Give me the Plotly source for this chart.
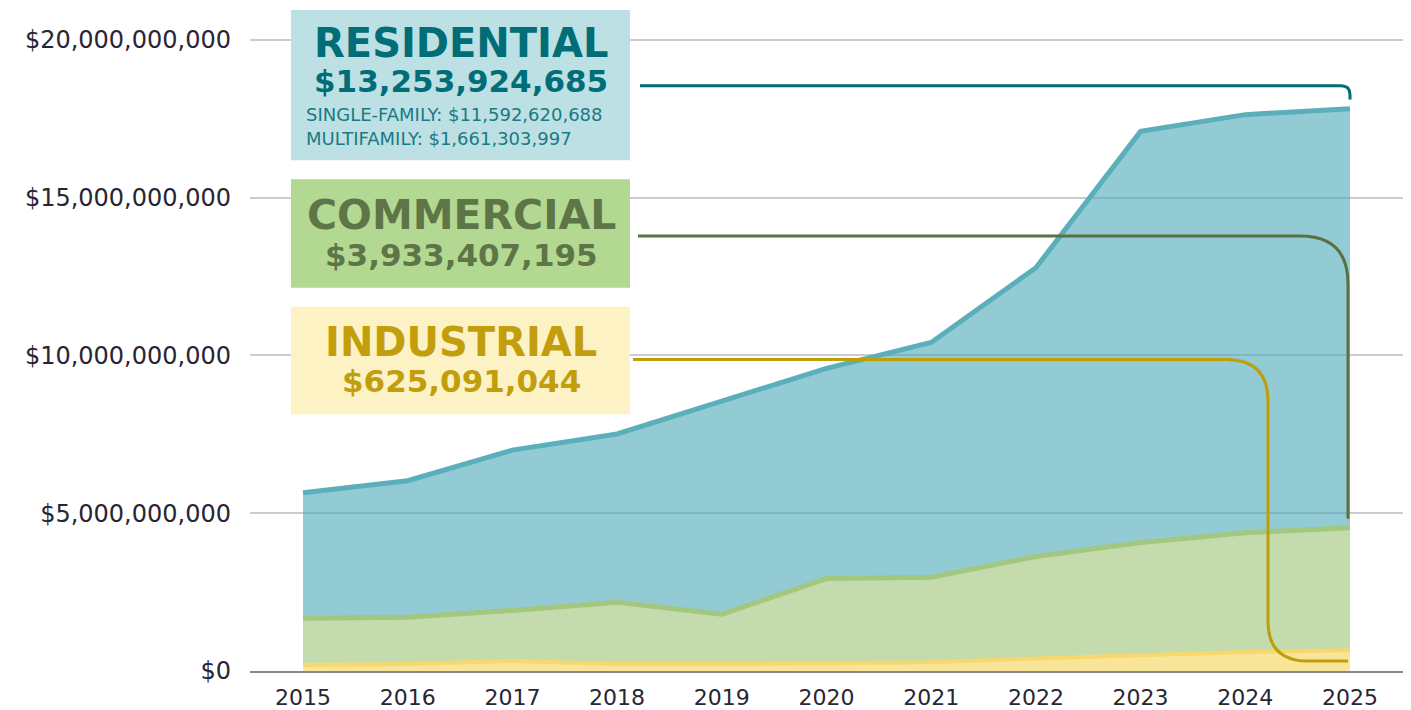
import plotly.graph_objects as go

# ---------------- data ----------------
years = [2015, 2016, 2017, 2018, 2019, 2020, 2021, 2022, 2023, 2024, 2025]
industrial = [0.19e9, 0.22e9, 0.32e9, 0.22e9, 0.22e9, 0.25e9, 0.28e9, 0.40e9, 0.50e9, 0.60e9, 0.66e9]
commercial = [1.48e9, 1.48e9, 1.60e9, 1.96e9, 1.58e9, 2.68e9, 2.69e9, 3.23e9, 3.57e9, 3.78e9, 3.88e9]
residential = [3.98e9, 4.33e9, 5.08e9, 5.33e9, 6.75e9, 6.66e9, 7.44e9, 9.15e9, 13.03e9, 13.25e9, 13.28e9]

y_ticks = [0, 5e9, 10e9, 15e9, 20e9]
y_tick_labels = ["$0", "$5,000,000,000", "$10,000,000,000", "$15,000,000,000", "$20,000,000,000"]

# ---------------- layout geometry ----------------
OFF = 8  # page body margin
W, H = 1403, 702
ML, MR, MT, MB = 242, 6, 0, 36
PW, PH = W - ML - MR, H - MT - MB


def px(x):
    """page pixel x -> paper x"""
    return (x - OFF - ML) / PW


def py(y):
    """page pixel y -> paper y"""
    return (MT + PH - (y - OFF)) / PH


# 20B at page y=40, 0 at page y=674
per_px = 20e9 / (674 - 40)
y_max = (674 - OFF) * per_px

FONT = "DejaVu Sans"

fig = go.Figure()

series = [
    ("Industrial", industrial, "rgba(245,212,87,0.6)", "#f6d86c", 4),
    ("Commercial", commercial, "rgba(157,195,118,0.6)", "#a3c77f", 5),
    ("Residential", residential, "rgba(75,168,185,0.6)", "#5aafbb", 5),
]
for name, vals, fillc, linec, lw in series:
    fig.add_trace(go.Scatter(
        x=years, y=vals, name=name, mode="lines", stackgroup="one",
        line=dict(color=linec, width=lw), fillcolor=fillc,
    ))

shapes = []
annotations = []

# label boxes
boxes = [
    (10, 161, "#bde0e4"),
    (180, 289, "#b3d891"),
    (308, 416, "#fdf2c4"),
]
for y0, y1, c in boxes:
    shapes.append(dict(type="rect", xref="paper", yref="paper",
                       x0=px(291), x1=px(630), y0=py(y1), y1=py(y0),
                       fillcolor=c, line=dict(width=0), layer="above"))


def path(points):
    out = []
    for cmd, coords in points:
        s = cmd + " " + " ".join(f"{px(a):.5f},{py(b):.5f}" for a, b in coords)
        out.append(s)
    return " ".join(out)


# connector lines
res_path = path([("M", [(640, 86)]), ("L", [(1341, 86)]),
                 ("Q", [(1350, 86), (1350, 95)]), ("L", [(1350, 100)])])
com_path = path([("M", [(638, 237)]), ("L", [(1300, 237)]),
                 ("Q", [(1348, 237), (1348, 285)]), ("L", [(1348, 521)])])
ind_path = path([("M", [(633, 361)]), ("L", [(1226, 361)]),
                 ("Q", [(1268, 361), (1268, 403)]), ("L", [(1268, 624)]),
                 ("Q", [(1268, 664), (1308, 664)]), ("L", [(1348, 664)])])
for p, c in [(res_path, "#006d77"), (com_path, "#5b7145"), (ind_path, "#c09e0a")]:
    shapes.append(dict(type="path", xref="paper", yref="paper", path=p,
                       line=dict(color=c, width=3), layer="above"))


def ann(text, x, y, size, color, bold=True, xanchor="center"):
    annotations.append(dict(
        text=text, xref="paper", yref="paper", x=px(x), y=py(y),
        xanchor=xanchor, yanchor="middle", showarrow=False,
        font=dict(family=FONT, size=size, color=color, weight=700 if bold else 400),
    ))


ann("RESIDENTIAL", 461, 43, 40, "#006d77")
ann("$13,253,924,685", 461, 81, 31, "#006d77")
ann("SINGLE-FAMILY: $11,592,620,688", 304, 115, 18, "#1a7a83", bold=False, xanchor="left")
ann("MULTIFAMILY: $1,661,303,997", 304, 139, 18, "#1a7a83", bold=False, xanchor="left")
ann("COMMERCIAL", 461, 216, 41, "#5e7548")
ann("$3,933,407,195", 461, 256, 31, "#5e7548")
ann("INDUSTRIAL", 461, 344, 40, "#c29e0c")
ann("$625,091,044", 461, 383, 31, "#c29e0c")

fig.update_layout(
    width=W, height=H,
    margin=dict(l=ML, r=MR, t=MT, b=MB),
    paper_bgcolor="white", plot_bgcolor="white",
    showlegend=False,
    shapes=shapes, annotations=annotations,
    font=dict(family=FONT, color="#2a2535"),
    xaxis=dict(
        range=[2015 - 53 / 104.7, 2025 + 55 / 104.7],
        tickvals=years, ticktext=[str(y) for y in years],
        showgrid=False, zeroline=False,
        showline=True, linecolor="#8a8694", linewidth=2,
        ticks="outside", ticklen=6, tickcolor="rgba(0,0,0,0)",
        tickfont=dict(family=FONT, size=22, color="#2a2535"),
    ),
    yaxis=dict(
        range=[0, y_max],
        tickvals=y_ticks, ticktext=y_tick_labels,
        showgrid=True, gridcolor="#cccbd1", gridwidth=1.5,
        zeroline=False, showline=False,
        ticklabelstandoff=18,
        tickfont=dict(family=FONT, size=24, color="#2a2535"),
    ),
)

fig.write_html("out.html")
